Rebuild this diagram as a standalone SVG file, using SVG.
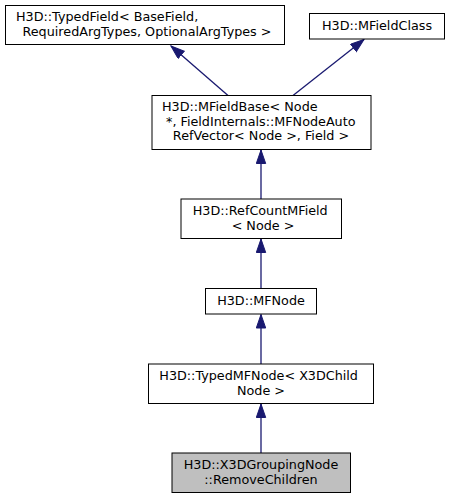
<svg xmlns="http://www.w3.org/2000/svg" width="450" height="499" viewBox="0 0 450 499">
<style>
  .box { fill: #ffffff; stroke: #000000; stroke-width: 1; }
  .focus { fill: #bfbfbf; stroke: #000000; stroke-width: 1; }
  text { font-family: "DejaVu Sans", "Noto Sans", sans-serif; font-size: 12.75px; fill: #000000; }
  .m { text-anchor: middle; }
  .s { text-anchor: start; }
  .edge { stroke: #191970; stroke-width: 1.3; fill: none; marker-end: url(#arr); }
</style>
<defs>
  <marker id="arr" markerUnits="userSpaceOnUse" markerWidth="16" markerHeight="12" refX="14" refY="5" orient="auto">
    <path d="M0.5,0.3 L14,5 L0.5,9.7 Z" fill="#191970" stroke="#191970" stroke-width="1"/>
  </marker>
</defs>
<g id="connectors">
  <line class="edge" x1="228" y1="95.5" x2="171" y2="46"/>
  <line class="edge" x1="293" y1="95.5" x2="364" y2="39.5"/>
  <line class="edge" x1="261" y1="199" x2="261" y2="150"/>
  <line class="edge" x1="261" y1="288.5" x2="261" y2="239"/>
  <line class="edge" x1="261" y1="364" x2="261" y2="314.5"/>
  <line class="edge" x1="261" y1="453" x2="261" y2="404"/>
</g>
<g id="typedfield">
  <rect class="box" x="5.5" y="5.5" width="279" height="39"/>
  <text class="s" x="16" y="21">H3D::TypedField&lt; BaseField,</text>
  <text class="m" x="147" y="35.5">RequiredArgTypes, OptionalArgTypes &gt;</text>
</g>
<g id="mfieldclass">
  <rect class="box" x="309.5" y="13.5" width="135" height="25.5"/>
  <text class="m" x="377" y="29.5">H3D::MFieldClass</text>
</g>
<g id="mfieldbase">
  <rect class="box" x="152" y="95.5" width="219" height="54"/>
  <text class="s" x="162" y="111">H3D::MFieldBase&lt; Node</text>
  <text class="s" x="166" y="125.5">*, FieldInternals::MFNodeAuto</text>
  <text class="m" x="261" y="140">RefVector&lt; Node &gt;, Field &gt;</text>
</g>
<g id="refcountmfield">
  <rect class="box" x="181" y="199" width="160.5" height="39.5"/>
  <text class="s" x="192.7" y="215">H3D::RefCountMField</text>
  <text class="m" x="263" y="229.5">&lt; Node &gt;</text>
</g>
<g id="mfnode">
  <rect class="box" x="205.5" y="288.5" width="111" height="25.5"/>
  <text class="m" x="261" y="305">H3D::MFNode</text>
</g>
<g id="typedmfnode">
  <rect class="box" x="148.5" y="364" width="225" height="39.5"/>
  <text class="s" x="159.3" y="380">H3D::TypedMFNode&lt; X3DChild</text>
  <text class="m" x="261" y="394.5">Node &gt;</text>
</g>
<g id="removechildren">
  <rect class="focus" x="172" y="453" width="178.5" height="39.5"/>
  <text class="m" x="261" y="469">H3D::X3DGroupingNode</text>
  <text class="m" x="261" y="483.5">::RemoveChildren</text>
</g>
</svg>
